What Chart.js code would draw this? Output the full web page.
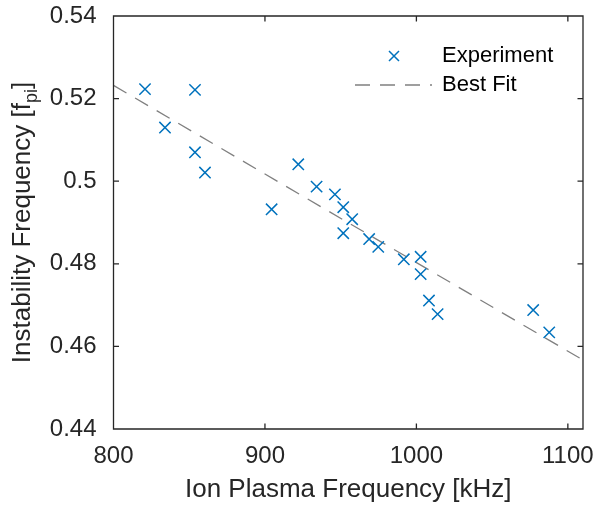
<!DOCTYPE html>
<html>
<head>
<meta charset="utf-8">
<title>Instability vs Ion Plasma Frequency</title>
<script src="https://cdn.jsdelivr.net/npm/chart.js@4.4.1/dist/chart.umd.min.js"></script>
<style>
  html, body { margin: 0; padding: 0; background: #ffffff; }
  #chart { display: block; }
</style>
</head>
<body>
<canvas id="chart" width="596" height="509"></canvas>
<script>
// measured points (kHz, units of f_pi)
const plasmaFreq = [820.8, 834.0, 853.8, 853.8, 860.4, 904.4, 922.0, 934.1, 946.2, 951.7, 951.7,
                    957.6, 968.8, 974.8, 991.7, 1002.8, 1002.8, 1008.3, 1014.0, 1077.1, 1087.7];
const instabilityFreq = [0.5223, 0.5130, 0.5221, 0.5070, 0.5021, 0.4932, 0.5041, 0.4987, 0.4968, 0.4937, 0.4874,
                         0.4908, 0.4860, 0.4841, 0.4811, 0.4817, 0.4775, 0.4711, 0.4678, 0.4688, 0.4634];

// best fit line
const fitFreq = [800, 1110];
const fitValues = [0.5232, 0.4567];

const xTicks = [800, 900, 1000, 1100];
const yTicks = [0.44, 0.46, 0.48, 0.50, 0.52, 0.54];
const yTickLabels = ['0.44', '0.46', '0.48', '0.5', '0.52', '0.54'];

const fontFamily = '"Liberation Sans", Arial, Helvetica, sans-serif';
const axisColor = '#262626';
const blue = '#0072BD';
const gray = '#808080';

// MATLAB style box with inward ticks
const boxPlugin = {
    id: 'box',
    afterDraw(chart) {
        const { ctx, chartArea: a, scales } = chart;
        const len = 5.5;
        ctx.save();
        ctx.strokeStyle = axisColor;
        ctx.lineWidth = 1.3;
        ctx.beginPath();
        ctx.rect(a.left, a.top, a.right - a.left, a.bottom - a.top);
        xTicks.forEach(v => {
            const x = scales.x.getPixelForValue(v);
            ctx.moveTo(x, a.bottom); ctx.lineTo(x, a.bottom - len);
            ctx.moveTo(x, a.top); ctx.lineTo(x, a.top + len);
        });
        yTicks.forEach(v => {
            const y = scales.y.getPixelForValue(v);
            ctx.moveTo(a.left, y); ctx.lineTo(a.left + len, y);
            ctx.moveTo(a.right, y); ctx.lineTo(a.right - len, y);
        });
        ctx.stroke();
        ctx.restore();
    }
};

// y title with subscript f_pi
const yTitlePlugin = {
    id: 'yTitle',
    afterDraw(chart) {
        const { ctx, chartArea: a } = chart;
        const main = 'Instability Frequency [f';
        const sub = 'pi';
        const end = ']';
        const big = '26px ' + fontFamily;
        const small = '18px ' + fontFamily;
        ctx.save();
        ctx.fillStyle = axisColor;
        ctx.font = big;
        const w1 = ctx.measureText(main).width;
        const w3 = ctx.measureText(end).width;
        ctx.font = small;
        const w2 = ctx.measureText(sub).width;
        const total = w1 + w2 + w3;
        ctx.translate(30, (a.top + a.bottom) / 2);
        ctx.rotate(-Math.PI / 2);
        ctx.textAlign = 'left';
        ctx.textBaseline = 'alphabetic';
        let x = -total / 2;
        ctx.font = big;
        ctx.fillText(main, x, 0);
        x += w1;
        ctx.font = small;
        ctx.fillText(sub, x, 7);
        x += w2;
        ctx.font = big;
        ctx.fillText(end, x, 0);
        ctx.restore();
    }
};

// legend without box, top right inside axes
const legendPlugin = {
    id: 'insideLegend',
    afterDraw(chart) {
        const { ctx, chartArea: a } = chart;
        const ds = chart.data.datasets;
        const textX = a.right - 141;
        const row1 = a.top + 40;
        const row2 = a.top + 69;
        ctx.save();
        // marker
        const mx = a.right - 189, h = 5;
        ctx.strokeStyle = blue;
        ctx.lineWidth = 1.5;
        ctx.beginPath();
        ctx.moveTo(mx - h, row1 - h); ctx.lineTo(mx + h, row1 + h);
        ctx.moveTo(mx + h, row1 - h); ctx.lineTo(mx - h, row1 + h);
        ctx.stroke();
        // dashed line
        ctx.strokeStyle = gray;
        ctx.lineWidth = 1.3;
        ctx.setLineDash([15, 10]);
        ctx.beginPath();
        ctx.moveTo(a.right - 228, row2);
        ctx.lineTo(a.right - 151, row2);
        ctx.stroke();
        ctx.setLineDash([]);
        ctx.fillStyle = '#000000';
        ctx.font = '22px ' + fontFamily;
        ctx.textAlign = 'left';
        ctx.textBaseline = 'middle';
        ctx.fillText(ds[0].label, textX, row1);
        ctx.fillText(ds[1].label, textX, row2);
        ctx.restore();
    }
};

const ctx = document.getElementById('chart').getContext('2d');
new Chart(ctx, {
    type: 'scatter',
    data: {
        datasets: [{
            label: 'Experiment',
            data: plasmaFreq.map((f, i) => ({ x: f, y: instabilityFreq[i] })),
            pointStyle: 'crossRot',
            pointRadius: 8,
            pointHoverRadius: 8,
            pointBorderWidth: 1.5,
            borderColor: blue,
            backgroundColor: blue,
            showLine: false
        }, {
            label: 'Best Fit',
            data: fitFreq.map((f, i) => ({ x: f, y: fitValues[i] })),
            showLine: true,
            pointRadius: 0,
            borderColor: gray,
            borderWidth: 1.3,
            borderDash: [15, 10],
            fill: false
        }]
    },
    options: {
        responsive: false,
        animation: false,
        events: [],
        layout: { padding: { top: 16, right: 13, left: 0, bottom: 0 } },
        plugins: {
            legend: { display: false },
            tooltip: { enabled: false }
        },
        scales: {
            x: {
                type: 'linear',
                min: 800,
                max: 1110,
                afterBuildTicks: (scale) => { scale.ticks = xTicks.map(v => ({ value: v })); },
                afterFit: (scale) => {
                    scale.height = 80;
                    scale.paddingLeft = 0;
                    scale.paddingRight = 0;
                },
                grid: { display: false },
                border: { display: false },
                ticks: {
                    padding: 5,
                    color: axisColor,
                    font: { family: fontFamily, size: 24 },
                    maxRotation: 0,
                    autoSkip: false,
                    callback: (v) => String(v)
                },
                title: {
                    display: true,
                    text: 'Ion Plasma Frequency [kHz]',
                    color: axisColor,
                    font: { family: fontFamily, size: 26 },
                    padding: { top: 0, bottom: 4 }
                }
            },
            y: {
                type: 'linear',
                min: 0.44,
                max: 0.54,
                afterBuildTicks: (scale) => { scale.ticks = yTicks.map(v => ({ value: v })); },
                afterFit: (scale) => {
                    scale.width = 113.5;
                    scale.paddingTop = 0;
                    scale.paddingBottom = 0;
                },
                grid: { display: false },
                border: { display: false },
                ticks: {
                    padding: 9,
                    color: axisColor,
                    font: { family: fontFamily, size: 24 },
                    autoSkip: false,
                    callback: (v, i) => yTickLabels[i]
                }
            }
        }
    },
    plugins: [boxPlugin, yTitlePlugin, legendPlugin]
});
</script>
</body>
</html>
